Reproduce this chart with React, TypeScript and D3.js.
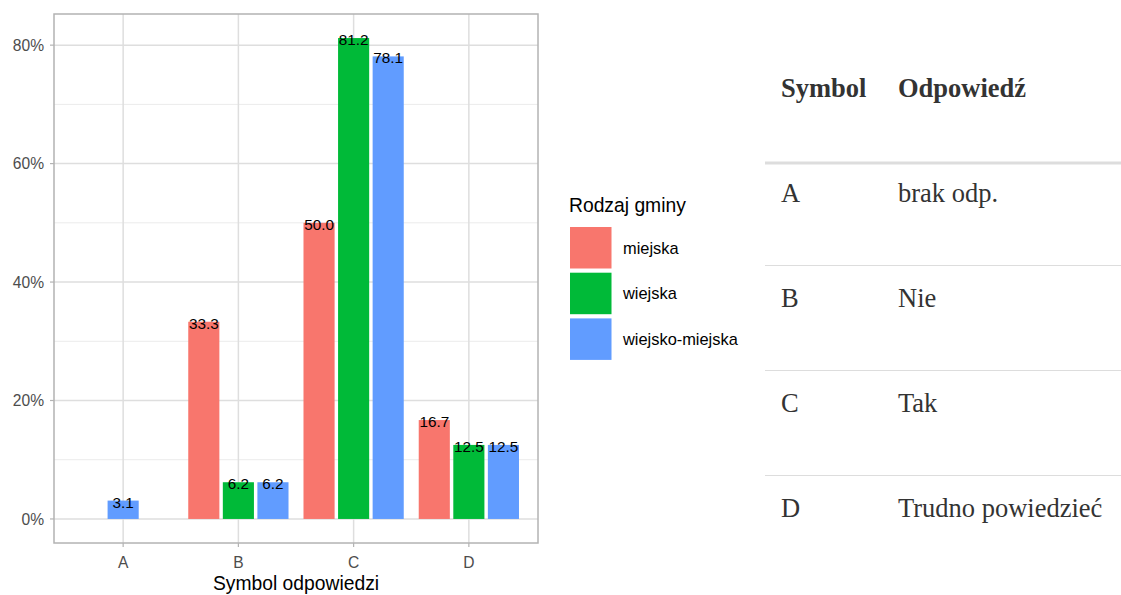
import React, { useEffect, useRef } from "react";
import * as d3 from "d3";

const categories = ["A", "B", "C", "D"];
const groups = ["miejska", "wiejska", "wiejsko-miejska"];
const miejska: (number | null)[] = [null, 33.3, 50.0, 16.7];
const wiejska: (number | null)[] = [null, 6.2, 81.2, 12.5];
const wiejskoMiejska: (number | null)[] = [3.1, 6.2, 78.1, 12.5];
const yTicks = [0, 20, 40, 60, 80];
const yMinor = [10, 30, 50, 70];
const colors = ["#F8766D", "#00BA38", "#619CFF"];
const tableHeader = ["Symbol", "Odpowiedź"];
const tableSymbols = ["A", "B", "C", "D"];
const tableAnswers = ["brak odp.", "Nie", "Tak", "Trudno powiedzieć"];

const W = 1121;
const H = 595;

export default function App() {
  const ref = useRef<SVGSVGElement>(null);

  useEffect(() => {
    document.body.style.margin = "0";
    const svg = d3.select(ref.current);
    svg.selectAll("*").remove();

    const left = 54, right = 538, top = 14, bottom = 543;
    const x = d3.scalePoint<string>().domain(categories).range([left, right]).padding(0.6);
    const step = x.step();
    const maxV = 81.2;
    const y = d3.scaleLinear().domain([-maxV * 0.05, maxV * 1.05]).range([bottom, top]);

    const g = svg.append("g");
    // grid
    yMinor.forEach((t) => {
      g.append("line").attr("x1", left).attr("x2", right).attr("y1", y(t)).attr("y2", y(t))
        .attr("stroke", "#ebebeb").attr("stroke-width", 1);
    });
    yTicks.forEach((t) => {
      g.append("line").attr("x1", left).attr("x2", right).attr("y1", y(t)).attr("y2", y(t))
        .attr("stroke", "#dedede").attr("stroke-width", 1.5);
    });
    categories.forEach((c) => {
      g.append("line").attr("x1", x(c)!).attr("x2", x(c)!).attr("y1", top).attr("y2", bottom)
        .attr("stroke", "#dedede").attr("stroke-width", 1.5);
    });

    // bars
    const series = [miejska, wiejska, wiejskoMiejska];
    const slot = (step * 0.9) / 3;
    const bw = slot * 0.9;
    categories.forEach((c, ci) => {
      const present = groups.map((_, gi) => gi).filter((gi) => series[gi][ci] != null);
      const n = present.length;
      present.forEach((gi, k) => {
        const v = series[gi][ci] as number;
        const cx = x(c)! + (k - (n - 1) / 2) * slot;
        g.append("rect").attr("x", cx - bw / 2).attr("width", bw)
          .attr("y", y(v)).attr("height", y(0) - y(v)).attr("fill", colors[gi]);
      });
      present.forEach((gi, k) => {
        const v = series[gi][ci] as number;
        const cx = x(c)! + (k - (n - 1) / 2) * slot;
        g.append("text").attr("x", cx).attr("y", y(v) + 7).attr("text-anchor", "middle")
          .attr("font-family", "Liberation Sans, Arial, sans-serif").attr("font-size", 15.3)
          .attr("fill", "#000").text(v.toFixed(1));
      });
    });

    // border
    g.append("rect").attr("x", left).attr("y", top).attr("width", right - left).attr("height", bottom - top)
      .attr("fill", "none").attr("stroke", "#b3b3b3").attr("stroke-width", 1.5);

    // y ticks
    yTicks.forEach((t) => {
      g.append("line").attr("x1", left - 4).attr("x2", left).attr("y1", y(t)).attr("y2", y(t))
        .attr("stroke", "#b3b3b3").attr("stroke-width", 1.2);
      g.append("text").attr("x", left - 10).attr("y", y(t)).attr("dy", "0.36em").attr("text-anchor", "end")
        .attr("font-family", "Liberation Sans, Arial, sans-serif").attr("font-size", 15.6)
        .attr("fill", "#4d4d4d").text(`${t}%`);
    });
    categories.forEach((c) => {
      g.append("line").attr("x1", x(c)!).attr("x2", x(c)!).attr("y1", bottom).attr("y2", bottom + 4)
        .attr("stroke", "#b3b3b3").attr("stroke-width", 1.2);
      g.append("text").attr("x", x(c)!).attr("y", 568).attr("text-anchor", "middle")
        .attr("font-family", "Liberation Sans, Arial, sans-serif").attr("font-size", 15.6)
        .attr("fill", "#4d4d4d").text(c);
    });
    g.append("text").attr("x", (left + right) / 2).attr("y", 590).attr("text-anchor", "middle")
      .attr("font-family", "Liberation Sans, Arial, sans-serif").attr("font-size", 19.3)
      .attr("fill", "#000").text("Symbol odpowiedzi");

    // legend
    g.append("text").attr("x", 569).attr("y", 212)
      .attr("font-family", "Liberation Sans, Arial, sans-serif").attr("font-size", 19.3)
      .attr("fill", "#000").text("Rodzaj gminy");
    groups.forEach((gr, i) => {
      const ky = 227 + i * 45.7;
      g.append("rect").attr("x", 570).attr("y", ky).attr("width", 41.5).attr("height", 41.5).attr("fill", colors[i]);
      g.append("text").attr("x", 623).attr("y", ky + 20.75).attr("dy", "0.36em")
        .attr("font-family", "Liberation Sans, Arial, sans-serif").attr("font-size", 16.4)
        .attr("fill", "#000").text(gr);
    });

    // table
    const serif = "Liberation Serif, Times New Roman, serif";
    const col1 = 781, col2 = 898;
    g.append("text").attr("x", col1).attr("y", 97).attr("font-family", serif).attr("font-weight", "bold")
      .attr("font-size", 26.5).attr("fill", "#333").text(tableHeader[0]);
    g.append("text").attr("x", col2).attr("y", 97).attr("font-family", serif).attr("font-weight", "bold")
      .attr("font-size", 26.5).attr("fill", "#333").text(tableHeader[1]);
    g.append("line").attr("x1", 765).attr("x2", W).attr("y1", 163).attr("y2", 163)
      .attr("stroke", "#dddddd").attr("stroke-width", 3);
    tableSymbols.forEach((s, i) => {
      const by = 202 + i * 105;
      g.append("text").attr("x", col1).attr("y", by).attr("font-family", serif)
        .attr("font-size", 26.5).attr("fill", "#333").text(s);
      g.append("text").attr("x", col2).attr("y", by).attr("font-family", serif)
        .attr("font-size", 26.5).attr("fill", "#333").text(tableAnswers[i]);
      if (i < tableSymbols.length - 1) {
        g.append("line").attr("x1", 765).attr("x2", W).attr("y1", 265.5 + i * 105).attr("y2", 265.5 + i * 105)
          .attr("stroke", "#dddddd").attr("stroke-width", 1);
      }
    });
  }, []);

  return (
    <svg ref={ref} width={W} height={H} style={{ position: "absolute", left: 0, top: 0, background: "#fff" }} />
  );
}
